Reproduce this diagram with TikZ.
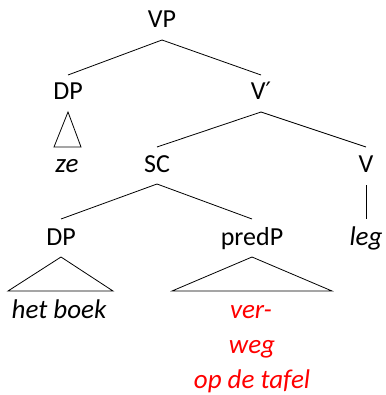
\documentclass[tikz,border=0pt]{standalone}
\usepackage{fontspec}
\setmainfont{Carlito}
\newfontfamily\primefont{DejaVu Sans}
\begin{document}
\begin{tikzpicture}[x=1pt,y=-1pt,
  lab/.style={anchor=base,inner sep=0pt,font=\fontsize{26}{30}\selectfont},
  leaf/.style={anchor=base,inner sep=0pt,font=\fontsize{27}{32}\selectfont\itshape},
  redleaf/.style={leaf,text=red},
  br/.style={line width=0.8pt},
  tri/.style={line width=0.8pt}]
\useasboundingbox (0,0) rectangle (385,395);
\node[lab] (VP) at (162,28) {VP};
\node[lab] (DP1) at (68,100) {DP};
\node[lab] (Vbar) at (261,100) {V{\primefont\fontsize{24}{26}\selectfont ′}};
\node[leaf] (ze) at (67,172) {ze};
\node[lab] (SC) at (157,172) {SC};
\node[lab] (V) at (366,172) {V};
\node[lab] (DP2) at (61,245) {DP};
\node[lab] (predP) at (252,245) {predP};
\node[leaf] (leg) at (366,245) {leg};
\node[leaf] (hb) at (59,318) {het boek};
\node[redleaf] (ver) at (251,318) {ver-};
\node[redleaf] (weg) at (252,353) {weg};
\node[redleaf] (optafel) at (252,388) {op de tafel};
% branches
\draw[br] ([yshift=-12pt]VP.base) -- ([yshift=25pt]DP1.base);
\draw[br] ([yshift=-12pt]VP.base) -- ([yshift=25pt]Vbar.base);
\draw[br] ([yshift=-12pt]Vbar.base) -- ([yshift=25pt]SC.base);
\draw[br] ([yshift=-12pt]Vbar.base) -- ([yshift=25pt]V.base);
\draw[br] ([yshift=-12pt]SC.base) -- ([yshift=26pt]DP2.base);
\draw[br] ([yshift=-12pt]SC.base) -- ([yshift=26pt]predP.base);
\draw[br] ([yshift=-13pt]V.base) -- ([yshift=26pt]leg.base);
% triangles
\draw[tri] ([yshift=-12pt]DP1.base) -- ([xshift=-13pt,yshift=25pt]ze.base) -- ([xshift=14pt,yshift=25pt]ze.base) -- cycle;
\draw[tri] ([yshift=-12pt]DP2.base) -- ([xshift=-51pt,yshift=27pt]hb.base) -- ([xshift=54pt,yshift=27pt]hb.base) -- cycle;
\draw[tri] ([yshift=-12pt]predP.base) -- ([xshift=-79pt,yshift=27pt]ver.base) -- ([xshift=81pt,yshift=27pt]ver.base) -- cycle;
\end{tikzpicture}
\end{document}
